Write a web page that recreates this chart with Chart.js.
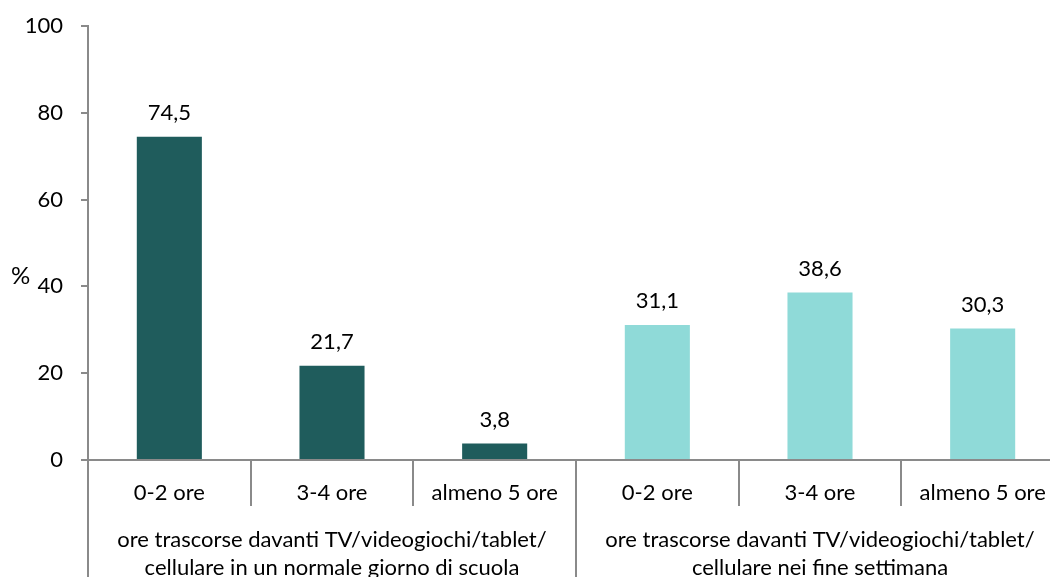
<!DOCTYPE html>
<html lang="it">
<head>
  <meta charset="UTF-8" />
  <title>Ore davanti agli schermi</title>
  <script src="https://cdn.jsdelivr.net/npm/chart.js"></script>
  <style>
    html, body { margin: 0; padding: 0; background: #fff; overflow: hidden; }
    #wrap { width: 1100px; height: 577px; }
  </style>
</head>
<body>
  <div id="wrap"><canvas id="chart" width="1100" height="577"></canvas></div>

  <script>
    const categories = ["0-2 ore", "3-4 ore", "almeno 5 ore", "0-2 ore", "3-4 ore", "almeno 5 ore"];
    const values = [74.5, 21.7, 3.8, 31.1, 38.6, 30.3];
    const groupOf = [0, 0, 0, 1, 1, 1];
    const groupLabels = [
      ["ore trascorse davanti TV/videogiochi/tablet/", "cellulare in un normale giorno di scuola"],
      ["ore trascorse davanti TV/videogiochi/tablet/", "cellulare nei fine settimana"]
    ];
    const groupColors = ["#1f5c5c", "#8fdad8"];

    const FONT = "22px Lato, 'Open Sans', sans-serif";
    const AXIS = "#8a8a8a";

    // value labels, separators under the axis, group captions, "%" label
    const extras = {
      id: "extras",
      afterDraw(chart) {
        const ctx = chart.ctx;
        const x = chart.scales.x, y = chart.scales.y;
        const step = x.getPixelForValue(1) - x.getPixelForValue(0);
        const base = y.getPixelForValue(0);
        ctx.save();
        ctx.font = FONT;
        ctx.fillStyle = "#000";
        ctx.textAlign = "center";
        ctx.textBaseline = "middle";

        chart.getDatasetMeta(0).data.forEach((bar, i) => {
          ctx.fillText(values[i].toFixed(1).replace(".", ","), bar.x, bar.y - 24);
        });

        ctx.strokeStyle = AXIS;
        ctx.lineWidth = 2;
        for (let i = 0; i <= categories.length; i++) {
          const px = Math.round(x.getPixelForValue(0) - step / 2 + i * step);
          const edge = i === 0 || i === categories.length || groupOf[i] !== groupOf[i - 1];
          ctx.beginPath();
          ctx.moveTo(px, base);
          ctx.lineTo(px, edge ? chart.height : base + 46);
          ctx.stroke();
        }

        groupLabels.forEach((lines, g) => {
          const idx = groupOf.map((v, i) => (v === g ? i : -1)).filter(i => i >= 0);
          const cx = (x.getPixelForValue(idx[0]) + x.getPixelForValue(idx[idx.length - 1])) / 2;
          lines.forEach((t, k) => ctx.fillText(t, cx, base + 80 + k * 28));
        });

        ctx.textAlign = "left";
        ctx.font = "24px Lato, 'Open Sans', sans-serif";
        ctx.fillText("%", 11, y.getPixelForValue(40) - 10);
        ctx.restore();
      }
    };

    new Chart(document.getElementById("chart"), {
      type: "bar",
      data: {
        labels: categories,
        datasets: [{
          data: values,
          backgroundColor: values.map((v, i) => groupColors[groupOf[i]]),
          barPercentage: 0.4,
          categoryPercentage: 1
        }]
      },
      options: {
        responsive: false,
        animation: false,
        layout: { padding: { top: 26, right: 36, left: 0, bottom: 0 } },
        plugins: { legend: { display: false }, tooltip: { enabled: false } },
        scales: {
          x: {
            grid: { display: false },
            border: { color: AXIS, width: 2 },
            ticks: {
              color: "#000",
              font: { family: "Lato, 'Open Sans', sans-serif", size: 22 },
              padding: 12,
              maxRotation: 0,
              autoSkip: false
            },
            afterFit(s) { s.height = 117; }
          },
          y: {
            min: 0,
            max: 100,
            grid: { drawOnChartArea: false, tickLength: 7, color: AXIS, lineWidth: 2 },
            border: { color: AXIS, width: 2 },
            ticks: {
              stepSize: 20,
              color: "#000",
              font: { family: "Lato, 'Open Sans', sans-serif", size: 22 },
              padding: 18
            },
            afterFit(s) { s.width = 88; s.paddingTop = 0; }
          }
        }
      },
      plugins: [extras]
    });
  </script>
</body>
</html>
